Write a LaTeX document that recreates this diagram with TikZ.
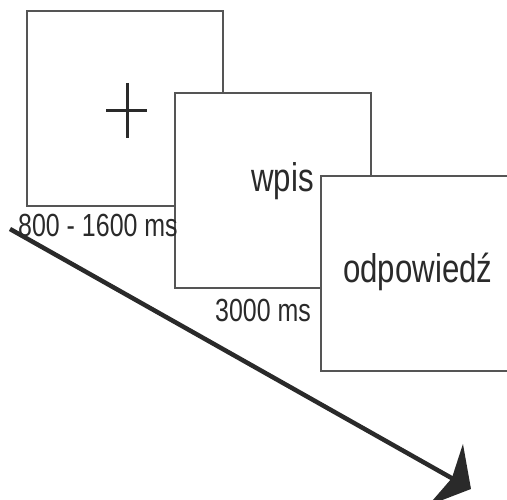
\documentclass[tikz,border=0pt]{standalone}
\usepackage{fontspec}
\setmainfont[FakeStretch=0.78]{Liberation Sans}
\usetikzlibrary{arrows.meta}
\definecolor{frame}{HTML}{555555}
\definecolor{ink}{HTML}{2A2A2A}
\begin{document}
\begin{tikzpicture}[x=1pt,y=-1pt,
  screen/.style={draw=frame,line width=1.5pt,fill=white},
  label/.style={text=ink,inner sep=0pt,font=\fontsize{32}{34}\selectfont},
  word/.style={text=ink,inner sep=0pt,font=\fontsize{40}{42}\selectfont}]
\useasboundingbox (0,0) rectangle (507,500);
% three stacked screens
\path[screen] (27,11) rectangle (223,206);
\path[screen] (175,93) rectangle (371,288);
\path[screen] (321,176) rectangle (520,371);
% fixation cross
\draw[ink,line width=3pt] (106,111) -- (147,111) (127,83) -- (127,138);
% texts
\node[label,anchor=base west] (t1) at (18,237) {800 - 1600 ms};
\node[label,anchor=base west] (t2) at (215,322) {3000 ms};
\node[word,anchor=base east] (w1) at (314,192) {wpis};
\node[word,anchor=base west] (w2) at (343,283) {odpowiedź};
% time axis
\coordinate (start) at (10,229);
\coordinate (end) at (471,489);
\draw[ink,line width=4.5pt,-{Stealth[length=29pt,width=70pt,inset=7pt]}] (start) -- (end);
\end{tikzpicture}
\end{document}
